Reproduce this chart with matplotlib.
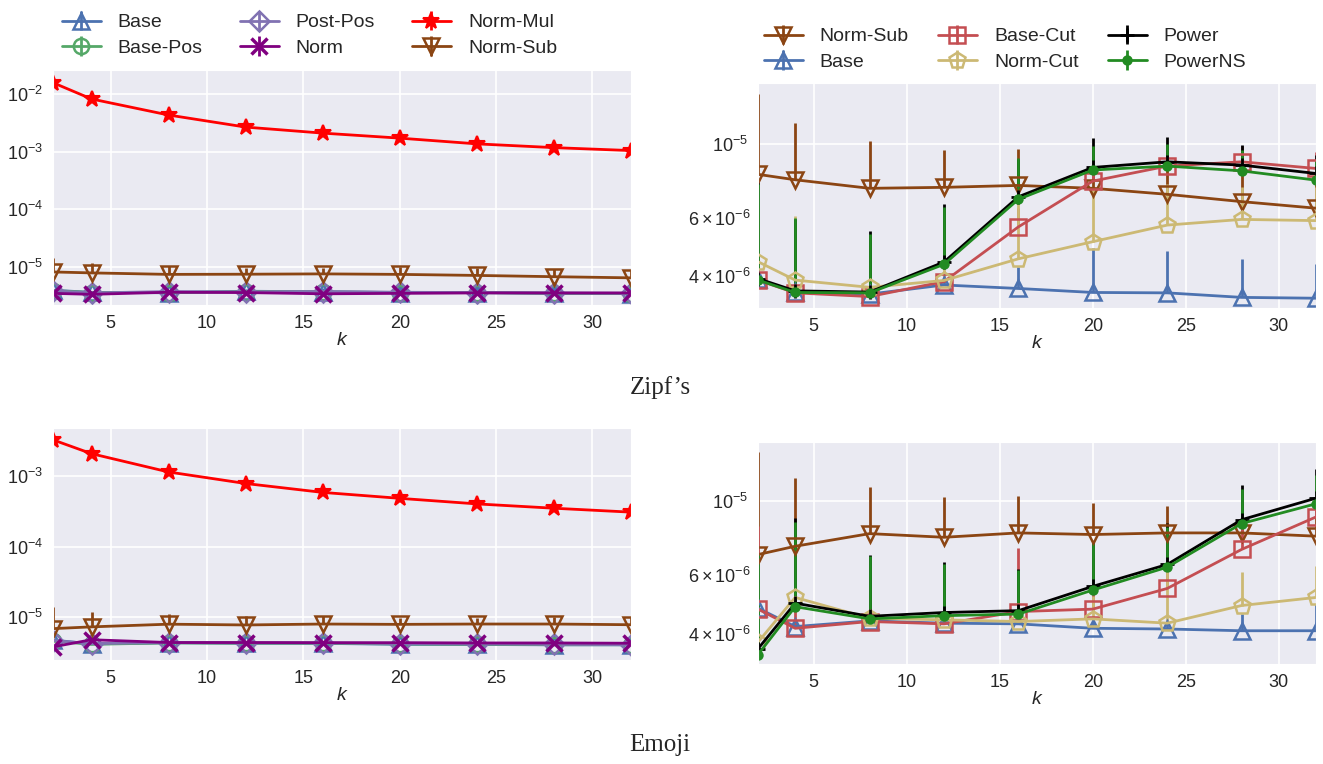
import numpy as np
import matplotlib
matplotlib.use('Agg')
import matplotlib.pyplot as plt
import seaborn as sns

sns.set_style('darkgrid')
plt.rcParams['font.family'] = ['Liberation Sans', 'DejaVu Sans']
plt.rcParams['mathtext.fontset'] = 'custom'
plt.rcParams['mathtext.rm'] = 'Liberation Sans'
plt.rcParams['mathtext.it'] = 'Liberation Sans:italic'
plt.rcParams['mathtext.bf'] = 'Liberation Sans:bold'

# ---------------- data ----------------
k = [2, 4, 8, 12, 16, 20, 24, 28, 32]
E6 = 1e-6

# Zipf's
zipf_base = [3.90, 3.58, 3.52, 3.75, 3.66, 3.56, 3.55, 3.44, 3.42]
zipf_base_err = [0.2, 0.2, 0.2, 0.3, 0.60, 1.28, 1.20, 1.05, 0.91]
zipf_base_pos = [3.85, 3.55, 3.55, 3.70, 3.65, 3.55, 3.55, 3.45, 3.42]
zipf_post_pos = [3.80, 3.50, 3.70, 3.65, 3.70, 3.60, 3.55, 3.50, 3.45]
zipf_norm = [3.44, 3.31, 3.60, 3.55, 3.38, 3.44, 3.50, 3.50, 3.50]
zipf_norm_mul = [15.7e3, 8.19e3, 4.31e3, 2.66e3, 2.09e3, 1.71e3, 1.36e3, 1.17e3, 1.04e3]
zipf_norm_sub = [8.10, 7.80, 7.35, 7.40, 7.50, 7.35, 7.05, 6.70, 6.40]
zipf_norm_sub_err = [6.1, 3.8, 2.85, 2.2, 2.15, 2.45, 2.55, 2.5, 2.2]
zipf_base_cut = [3.88, 3.55, 3.46, 3.84, 5.62, 7.73, 8.58, 8.84, 8.44]
zipf_base_cut_err = [0.3, 0.2, 0.2, 0.3, 0.8, 1.0, 1.0, 1.0, 1.0]
zipf_norm_cut = [4.41, 3.88, 3.69, 3.87, 4.50, 5.07, 5.69, 5.92, 5.87]
zipf_norm_cut_err = [2.0, 2.2, 1.5, 2.0, 2.2, 2.33, 1.9, 1.5, 1.55]
zipf_power = [3.92, 3.60, 3.57, 4.40, 6.93, 8.50, 8.84, 8.64, 8.15]
zipf_power_err = [3.9, 2.35, 1.88, 2.2, 2.07, 1.9, 1.63, 1.29, 1.15]
zipf_powerns = [3.88, 3.56, 3.55, 4.33, 6.81, 8.35, 8.58, 8.30, 7.78]
zipf_powerns_err = [3.72, 2.4, 1.8, 2.14, 2.24, 1.55, 1.42, 1.3, 1.17]

# Emoji
emoji_base = [4.77, 4.20, 4.37, 4.30, 4.28, 4.15, 4.13, 4.08, 4.08]
emoji_base_err = [0.2, 0.2, 0.2, 0.2, 0.2, 0.25, 0.3, 0.5, 0.82]
emoji_base_pos = [4.60, 4.15, 4.35, 4.30, 4.30, 4.20, 4.15, 4.10, 4.10]
emoji_post_pos = [4.70, 4.25, 4.40, 4.35, 4.35, 4.25, 4.20, 4.15, 4.10]
emoji_norm = [3.82, 4.82, 4.40, 4.40, 4.38, 4.38, 4.34, 4.34, 4.30]
emoji_norm_mul = [3.25e3, 2.07e3, 1.14e3, 0.783e3, 0.586e3, 0.483e3, 0.403e3, 0.350e3, 0.308e3]
emoji_norm_sub = [6.92, 7.33, 8.00, 7.80, 8.04, 7.95, 8.04, 8.04, 7.86]
emoji_norm_sub_err = [7.18, 4.42, 3.09, 2.5, 2.36, 1.95, 1.66, 1.96, 2.14]
emoji_base_cut = [4.74, 4.15, 4.35, 4.28, 4.66, 4.74, 5.47, 7.17, 8.98]
emoji_base_cut_err = [3.68, 2.0, 1.5, 1.5, 2.59, 2.0, 2.0, 2.0, 2.0]
emoji_norm_cut = [3.77, 5.14, 4.45, 4.40, 4.35, 4.43, 4.30, 4.86, 5.14]
emoji_norm_cut_err = [1.5, 2.0, 1.5, 1.5, 0.8, 0.77, 2.2, 1.27, 1.26]
emoji_power = [3.60, 4.94, 4.51, 4.63, 4.69, 5.55, 6.46, 8.81, 10.23]
emoji_power_err = [3.4, 3.98, 2.41, 1.96, 1.55, 2.05, 2.14, 2.39, 2.27]
emoji_powerns = [3.46, 4.82, 4.43, 4.53, 4.58, 5.41, 6.34, 8.58, 9.84]
emoji_powerns_err = [3.5, 3.88, 2.42, 1.97, 1.62, 2.09, 2.06, 2.32, 2.16]

x_ticks = [5, 10, 15, 20, 25, 30]

# ---------------- styles ----------------
STY = {
    'Base':     dict(color='#4C72B0', marker='^', mfc='none', ms=11, mew=1.8),
    'Base-Pos': dict(color='#55A868', marker='o', mfc='none', ms=11, mew=1.8),
    'Post-Pos': dict(color='#8172B2', marker='D', mfc='none', ms=10, mew=1.8),
    'Norm':     dict(color='#800080', marker='x', ms=11, mew=2.5),
    'Norm-Mul': dict(color='#FF0000', marker='*', ms=12, mew=1.5),
    'Norm-Sub': dict(color='#8B4513', marker='v', mfc='none', ms=11, mew=1.8),
    'Base-Cut': dict(color='#C44E52', marker='s', mfc='none', ms=11, mew=1.8),
    'Norm-Cut': dict(color='#CCB974', marker='p', mfc='none', ms=12, mew=1.8),
    'Power':    dict(color='black', marker='+', ms=10, mew=2),
    'PowerNS':  dict(color='#228B22', marker='o', ms=6, mew=1.5),
}

W, H = 1323, 764
fig = plt.figure(figsize=(W / 100, H / 100), dpi=100)


def add_ax(l, t, r, b):
    return fig.add_axes([l / W, 1 - b / H, (r - l) / W, (b - t) / H])


def draw(ax, label, vals, err=None, scale=E6):
    v = np.array(vals) * scale
    if err is None:
        e = np.zeros_like(v)
    else:
        e = np.array(err) * scale
    st = STY[label]
    ax.errorbar(k, v, yerr=[np.zeros_like(v), e], label=label, lw=2,
                elinewidth=2, capsize=0, **st)


def finish(ax, ylim):
    ax.set_yscale('log')
    ax.set_xlim(2, 32)
    ax.set_ylim(*ylim)
    ax.set_xticks(x_ticks)
    ax.set_xlabel('$k$', fontsize=14, labelpad=0)
    ax.tick_params(which='both', labelsize=13, pad=3.5)
    ax.grid(True, which='major', color='white', lw=1.2)
    ax.grid(False, which='minor')


# ---- Zipf left ----
ax1 = add_ax(53, 70, 631, 305)
draw(ax1, 'Base', zipf_base, zipf_base_err)
draw(ax1, 'Base-Pos', zipf_base_pos)
draw(ax1, 'Post-Pos', zipf_post_pos)
draw(ax1, 'Norm', zipf_norm)
draw(ax1, 'Norm-Mul', zipf_norm_mul)
draw(ax1, 'Norm-Sub', zipf_norm_sub, zipf_norm_sub_err)
finish(ax1, (2.16e-6, 2.61e-2))

# ---- Zipf right ----
ax2 = add_ax(758, 83, 1316, 308)
draw(ax2, 'Norm-Sub', zipf_norm_sub, zipf_norm_sub_err)
draw(ax2, 'Base', zipf_base, zipf_base_err)
draw(ax2, 'Base-Cut', zipf_base_cut, zipf_base_cut_err)
draw(ax2, 'Norm-Cut', zipf_norm_cut, zipf_norm_cut_err)
draw(ax2, 'Power', zipf_power, zipf_power_err)
draw(ax2, 'PowerNS', zipf_powerns, zipf_powerns_err)
finish(ax2, (3.195e-6, 1.53e-5))

# ---- Emoji left ----
ax3 = add_ax(53, 428, 631, 660)
draw(ax3, 'Base', emoji_base, emoji_base_err)
draw(ax3, 'Base-Pos', emoji_base_pos)
draw(ax3, 'Post-Pos', emoji_post_pos)
draw(ax3, 'Norm', emoji_norm)
draw(ax3, 'Norm-Mul', emoji_norm_mul)
draw(ax3, 'Norm-Sub', emoji_norm_sub, emoji_norm_sub_err)
finish(ax3, (2.49e-6, 4.78e-3))

# ---- Emoji right ----
ax4 = add_ax(758, 442, 1316, 664)
draw(ax4, 'Norm-Sub', emoji_norm_sub, emoji_norm_sub_err)
draw(ax4, 'Base', emoji_base, emoji_base_err)
draw(ax4, 'Base-Cut', emoji_base_cut, emoji_base_cut_err)
draw(ax4, 'Norm-Cut', emoji_norm_cut, emoji_norm_cut_err)
draw(ax4, 'Power', emoji_power, emoji_power_err)
draw(ax4, 'PowerNS', emoji_powerns, emoji_powerns_err)
finish(ax4, (3.24e-6, 1.51e-5))

leg_kw = dict(ncol=3, frameon=False, borderpad=0, fontsize=14,
              handlelength=2.0, handletextpad=0.88,
              labelspacing=0.4, loc='upper left',
              bbox_transform=fig.transFigure)
ax1.legend(bbox_to_anchor=(52 / W, 1 - 4 / H), columnspacing=1.9, **leg_kw)
ax2.legend(bbox_to_anchor=(754 / W, 1 - 18 / H), columnspacing=1.5, **leg_kw)

fig.text(660 / W, 1 - 388 / H, 'Zipf\u2019s', ha='center', va='center',
         family='Liberation Serif', fontsize=18)
fig.text(660 / W, 1 - 745 / H, 'Emoji', ha='center', va='center',
         family='Liberation Serif', fontsize=18)

fig.savefig('out.png', dpi=100)
